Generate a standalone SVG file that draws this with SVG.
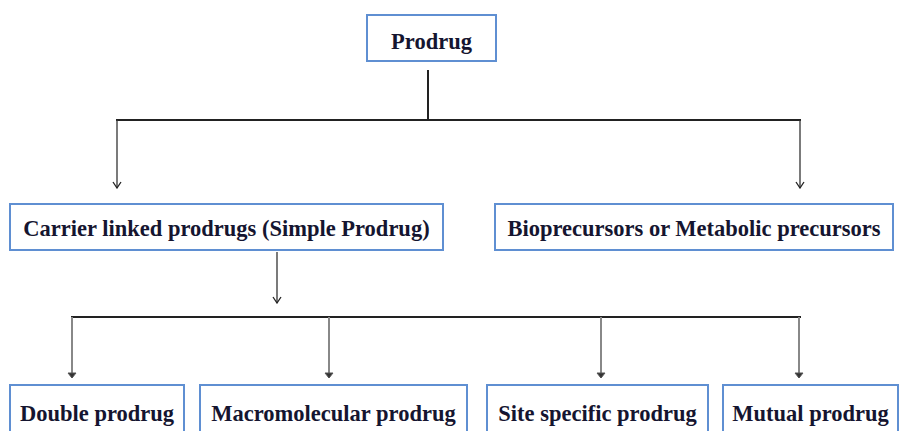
<svg xmlns="http://www.w3.org/2000/svg" width="899" height="431" viewBox="0 0 899 431">
<defs>
<marker id="ah" markerWidth="10" markerHeight="10" refX="9" refY="5" orient="auto" markerUnits="userSpaceOnUse">
<path d="M3,1 L9,5 L3,9" fill="none" stroke="#222" stroke-width="1.3"/>
</marker>
<marker id="ahg" markerWidth="10" markerHeight="10" refX="9" refY="5" orient="auto" markerUnits="userSpaceOnUse">
<path d="M4,1 L9,5 L4,9 Z" fill="#333" stroke="#555" stroke-width="1"/>
</marker>
</defs>
<style>
.box{fill:#fff;stroke:#5f8fd2;stroke-width:2}
.t{font-family:"Liberation Serif","Times New Roman",serif;font-weight:bold;font-size:22.5px;fill:#151530}
.ln{fill:none;stroke:#222;stroke-width:2}
.arr{fill:none;stroke:#333;stroke-width:1.3}
.garr{fill:none;stroke:#888;stroke-width:2}
</style>
<rect width="899" height="431" fill="#fff"/>
<g id="connectors">
<path class="ln" d="M428,70 V120"/>
<path class="ln" d="M116,120 H801"/>
<path class="arr" d="M117,120 V188" marker-end="url(#ah)"/>
<path class="arr" d="M800,120 V188" marker-end="url(#ah)"/>
<path class="arr" d="M277,252 V303" marker-end="url(#ah)"/>
<path class="ln" d="M71,317 H801"/>
<path class="garr" d="M72,317 V378" marker-end="url(#ahg)"/>
<path class="garr" d="M329,317 V378" marker-end="url(#ahg)"/>
<path class="garr" d="M601,317 V378" marker-end="url(#ahg)"/>
<path class="garr" d="M799,317 V378" marker-end="url(#ahg)"/>
</g>
<g id="prodrug">
<rect class="box" x="367" y="15" width="129" height="46"/>
<text class="t" x="431.5" y="49" text-anchor="middle">Prodrug</text>
</g>
<g id="carrier">
<rect class="box" x="10" y="204" width="433" height="46"/>
<text class="t" x="226.5" y="236" text-anchor="middle">Carrier linked prodrugs (Simple Prodrug)</text>
</g>
<g id="bioprecursors">
<rect class="box" x="495" y="204" width="398" height="46"/>
<text class="t" x="694" y="236" text-anchor="middle">Bioprecursors or Metabolic precursors</text>
</g>
<g id="double">
<rect class="box" x="10" y="385" width="174" height="60"/>
<text class="t" x="97" y="421" text-anchor="middle">Double prodrug</text>
</g>
<g id="macromolecular">
<rect class="box" x="200" y="385" width="267" height="60"/>
<text class="t" x="333.5" y="421" text-anchor="middle">Macromolecular prodrug</text>
</g>
<g id="site">
<rect class="box" x="487" y="385" width="221" height="60"/>
<text class="t" x="597.5" y="421" text-anchor="middle">Site specific prodrug</text>
</g>
<g id="mutual">
<rect class="box" x="723" y="385" width="175" height="60"/>
<text class="t" x="810.5" y="421" text-anchor="middle">Mutual prodrug</text>
</g>
</svg>
